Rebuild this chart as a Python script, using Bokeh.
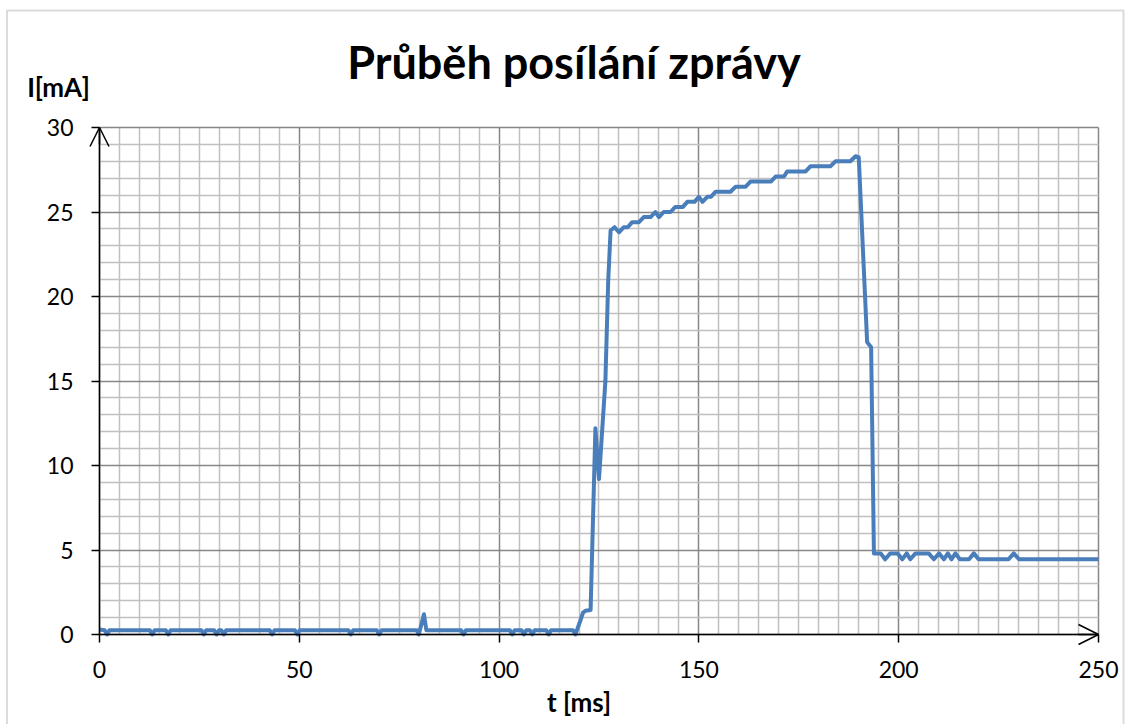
from bokeh.plotting import figure
from bokeh.models import FixedTicker, Label, Arrow, OpenHead, PolyAnnotation, Range1d
from bokeh.embed import file_html
from bokeh.resources import INLINE

# ---- data (time in ms, current in mA) ----
t_ms = [0, 1.3, 1.9, 2.5, 12.6, 13.2, 13.8, 16.6, 17.2, 17.8, 25.5, 26.1, 26.7,
        28.7, 29.3, 29.9, 30.5, 31.1, 31.7, 42.6, 43.2, 43.8, 48.9, 49.5, 50.1,
        62.3, 62.9, 63.5, 69.4, 70.0, 70.6, 79.4, 79.9, 81.2, 81.8, 90.5, 91.1,
        91.7, 102.7, 103.3, 103.9, 105.6, 106.2, 106.8, 107.7, 108.3, 108.9,
        111.8, 112.4, 113.0, 118.5, 119.1,
        120.3, 121.0, 121.6, 122.9, 124.1, 125.0, 126.6, 127.3, 127.9,
        128.9, 130.0, 131.2, 132.2, 133.3, 135.0, 136.2, 137.9, 139.1, 140.0,
        141.2, 142.9, 144.1, 146.0, 147.1, 148.9, 150.0, 150.9, 152.1, 153.0,
        154.2, 157.9, 159.2, 161.7, 162.9, 168.0, 169.2, 171.3, 172.1, 176.7,
        177.9, 182.9, 184.2, 187.9, 189.2, 190.0, 192.1, 193.1, 193.8,
        195.5, 196.6, 197.9, 199.7, 200.9, 202.0, 202.9, 204.2, 207.5, 208.8,
        210.1, 211.3, 212.3, 213.2, 214.2, 215.3, 217.6, 218.8, 220.0, 227.5,
        228.8, 230.1, 250.0]
i_ma = [0.3, 0.25, 0.0, 0.25, 0.25, 0.0, 0.25, 0.25, 0.0, 0.25, 0.25, 0.0, 0.25,
        0.25, 0.0, 0.25, 0.25, 0.0, 0.25, 0.25, 0.0, 0.25, 0.25, 0.0, 0.25,
        0.25, 0.0, 0.25, 0.25, 0.0, 0.25, 0.25, 0.0, 1.2, 0.25, 0.25, 0.0,
        0.25, 0.25, 0.0, 0.25, 0.25, 0.0, 0.25, 0.25, 0.0, 0.25,
        0.25, 0.0, 0.25, 0.25, 0.0,
        0.8, 1.3, 1.4, 1.45, 12.2, 9.2, 15.0, 20.9, 23.9,
        24.1, 23.8, 24.1, 24.1, 24.4, 24.4, 24.7, 24.7, 25.0, 24.7,
        25.0, 25.0, 25.3, 25.3, 25.6, 25.6, 25.9, 25.6, 25.9, 25.9,
        26.2, 26.2, 26.5, 26.5, 26.8, 26.8, 27.1, 27.1, 27.4, 27.4,
        27.7, 27.7, 28.0, 28.0, 28.3, 28.25, 17.3, 17.0, 4.8,
        4.8, 4.45, 4.8, 4.8, 4.45, 4.8, 4.45, 4.8, 4.8, 4.45,
        4.8, 4.45, 4.8, 4.45, 4.8, 4.45, 4.45, 4.8, 4.45, 4.45,
        4.8, 4.45, 4.45]

x_ticks = [0, 50, 100, 150, 200, 250]
y_ticks = [0, 5, 10, 15, 20, 25, 30]
x_minor = [v for v in range(0, 251, 5) if v % 50]
y_minor = [v for v in range(0, 31) if v % 5]
x_lim = (0, 250)
y_lim = (0, 30)

title_text = "Průběh posílání zprávy"
x_label = "t [ms]"
y_label = "I[mA]"

FONT = "Lato"
BLUE = "#4a7ebb"
MAJOR = "#878787"
MINOR = "#c0c0c0"

# the frame covers the whole canvas; the data area (0..250 ms, 0..30 mA)
# sits at pixels x 99..1098, y 127..634
p = figure(width=1128, height=724,
           x_range=Range1d(-24.775, 257.508), y_range=Range1d(-5.3254, 37.5148),
           output_backend="svg", toolbar_location=None,
           min_border_left=0, min_border_right=0, min_border_top=0, min_border_bottom=0)
p.background_fill_color = "white"
p.border_fill_color = "white"
p.outline_line_color = None

for ax, ticks, minor, lim in ((p.xaxis, x_ticks, x_minor, x_lim), (p.yaxis, y_ticks, y_minor, y_lim)):
    ax.ticker = FixedTicker(ticks=ticks, minor_ticks=minor)
    ax.fixed_location = 0
    ax.bounds = lim
    ax.axis_line_color = "black"
    ax.axis_line_width = 1.5
    ax.major_tick_line_color = "black"
    ax.major_tick_line_width = 1.5
    ax.major_tick_in = 0
    ax.major_tick_out = 8
    ax.minor_tick_line_color = None
    ax.major_label_text_font = FONT
    ax.major_label_text_font_size = "23px"
    ax.major_label_text_color = "black"
p.xaxis.major_label_standoff = 18
p.yaxis.major_label_standoff = 18

for g, lim, cross in ((p.xgrid, x_lim, y_lim), (p.ygrid, y_lim, x_lim)):
    g.bounds = lim
    g.cross_bounds = cross
    g.grid_line_color = MAJOR
    g.grid_line_width = 1.5
    g.minor_grid_line_color = MINOR
    g.minor_grid_line_width = 1.5

p.line(t_ms, i_ma, line_color=BLUE, line_width=4, line_join="round")

# axis arrow heads
p.add_layout(Arrow(x_start=0, y_start=29, x_end=0, y_end=30, line_color="black", line_width=1.5,
                   end=OpenHead(size=19, line_color="black", line_width=1.5)))
p.add_layout(Arrow(x_start=245, y_start=0, x_end=250, y_end=0, line_color="black", line_width=1.5,
                   end=OpenHead(size=20, line_color="black", line_width=1.5)))

# texts
p.add_layout(Label(x=118.74, y=33.85, text=title_text, text_font=FONT, text_font_style="bold",
                   text_font_size="45px", text_align="center", text_baseline="alphabetic",
                   text_color="black"))
p.add_layout(Label(x=-10.26, y=32.37, text=y_label, text_font=FONT, text_font_style="bold",
                   text_font_size="26px", text_align="center", text_baseline="alphabetic",
                   text_color="black"))
p.add_layout(Label(x=120.0, y=-4.02, text=x_label, text_font=FONT, text_font_style="bold",
                   text_font_size="26px", text_align="center", text_baseline="alphabetic",
                   text_color="black"))

# chart-area border
p.add_layout(PolyAnnotation(xs=[-23.15, 256.26, 256.26, -23.15], ys=[36.92, 36.92, -6.3, -6.3],
                            fill_color=None, line_color=MAJOR, line_width=2))

open("out.html", "w").write(file_html(p, INLINE))
